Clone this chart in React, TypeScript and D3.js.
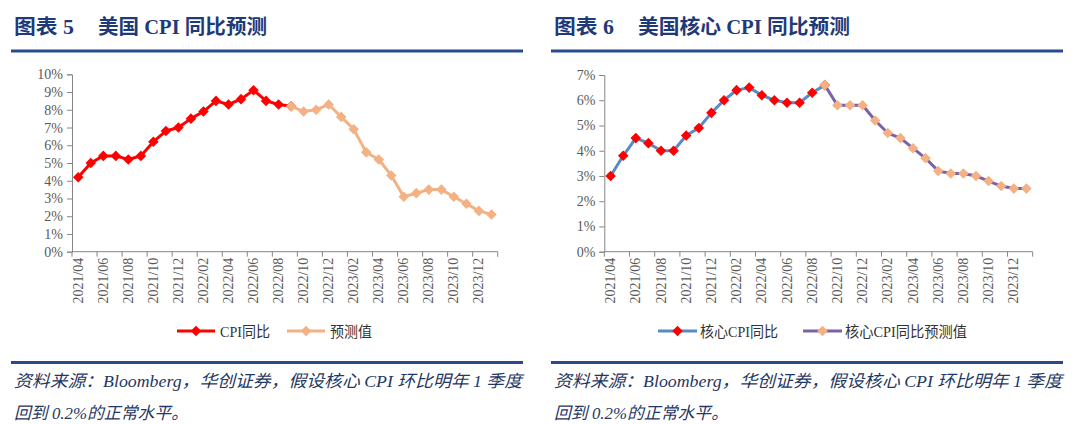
import { useEffect, useRef } from 'react';
import * as d3 from 'd3';

// months on the category axis
const months = [
  '2021/04', '2021/05', '2021/06', '2021/07', '2021/08', '2021/09', '2021/10', '2021/11', '2021/12',
  '2022/01', '2022/02', '2022/03', '2022/04', '2022/05', '2022/06', '2022/07', '2022/08', '2022/09',
  '2022/10', '2022/11', '2022/12', '2023/01', '2023/02', '2023/03', '2023/04', '2023/05', '2023/06',
  '2023/07', '2023/08', '2023/09', '2023/10', '2023/11', '2023/12', '2024/01',
];

// index where the forecast series begins
const forecastStart = 17;

// CPI yoy (%), actual 2021/04 - 2022/09, forecast 2022/09 - 2024/01
const cpiActual = [4.2, 5.0, 5.4, 5.4, 5.2, 5.4, 6.2, 6.8, 7.0, 7.5, 7.9, 8.5, 8.3, 8.6, 9.1, 8.5, 8.3, 8.2];
const cpiForecast = [8.2, 7.9, 8.0, 8.3, 7.6, 6.9, 5.6, 5.2, 4.3, 3.1, 3.3, 3.5, 3.5, 3.1, 2.7, 2.3, 2.1];

// core CPI yoy (%)
const coreActual = [3.0, 3.8, 4.5, 4.3, 4.0, 4.0, 4.6, 4.9, 5.5, 6.0, 6.4, 6.5, 6.2, 6.0, 5.9, 5.9, 6.3, 6.6];
const coreForecast = [6.6, 5.8, 5.8, 5.8, 5.2, 4.7, 4.5, 4.1, 3.7, 3.2, 3.1, 3.1, 3.0, 2.8, 2.6, 2.5, 2.5];

const cpiTicks = [0, 1, 2, 3, 4, 5, 6, 7, 8, 9, 10];
const coreTicks = [0, 1, 2, 3, 4, 5, 6, 7];

const serif = "'Times New Roman', 'Liberation Serif', 'Noto Sans CJK SC', serif";
const navy = '#1f3a78';
const sourceLine1 = '资料来源：Bloomberg，华创证券，假设核心 CPI 环比明年 1 季度';
const sourceLine2 = '回到 0.2%的正常水平。';

type Pt = { i: number; v: number };

interface PanelCfg {
  ox: number;
  num: string;
  title: string;
  titleLen: number;
  plot: { left: number; right: number; top: number; bottom: number };
  ticks: number[];
  actual: number[];
  forecast: number[];
  actualLine: string;
  actualMarker: string;
  forecastLine: string;
  forecastMarker: string;
  legend: { x0: number; x1: number; tx: number; tl: number; line: string; marker: string; text: string }[];
}

const drawPanel = (svg: d3.Selection<SVGSVGElement, unknown, null, undefined>, c: PanelCfg) => {
  const g = svg.append('g');
  const { left, right, top, bottom } = c.plot;

  // heading
  g.append('text')
    .attr('x', c.ox + 14).attr('y', 34)
    .attr('font-family', serif).attr('font-weight', 'bold').attr('font-size', 20)
    .attr('fill', navy)
    .attr('textLength', 60).attr('lengthAdjust', 'spacingAndGlyphs')
    .text(`图表 ${c.num}`);
  g.append('text')
    .attr('x', c.ox + 98).attr('y', 34)
    .attr('font-family', serif).attr('font-weight', 'bold').attr('font-size', 20)
    .attr('fill', navy)
    .attr('textLength', c.titleLen).attr('lengthAdjust', 'spacingAndGlyphs')
    .text(c.title);
  g.append('line')
    .attr('x1', c.ox + 11).attr('x2', c.ox + 523).attr('y1', 51).attr('y2', 51)
    .attr('stroke', '#2b4a8e').attr('stroke-width', 3);

  // scales
  const x = d3.scaleBand<string>().domain(months).range([left, right]).padding(0);
  const bw = x.bandwidth();
  const y = d3.scaleLinear().domain([0, d3.max(c.ticks)!]).range([bottom, top]);

  // y axis
  const yAxis = g.append('g')
    .attr('transform', `translate(${left},0)`)
    .call(d3.axisLeft(y).tickValues(c.ticks).tickFormat(d => `${d}%`).tickSizeOuter(0).tickSize(5).tickPadding(4));
  yAxis.select('.domain').attr('stroke', '#868686');
  yAxis.selectAll('.tick line').attr('stroke', '#868686');
  yAxis.selectAll('.tick text')
    .attr('font-family', serif).attr('font-size', 14).attr('fill', '#595959');

  // x axis: ticks every two months on category boundaries
  const tickIdx = d3.range(0, months.length + 1, 2);
  g.append('line')
    .attr('x1', left).attr('x2', right).attr('y1', bottom).attr('y2', bottom)
    .attr('stroke', '#868686');
  g.selectAll('.xt')
    .data(tickIdx)
    .join('line')
    .attr('x1', i => (i < months.length ? x(months[i])! : right))
    .attr('x2', i => (i < months.length ? x(months[i])! : right))
    .attr('y1', bottom).attr('y2', bottom + 5)
    .attr('stroke', '#868686');
  g.selectAll('.xl')
    .data(months.filter((_, i) => i % 2 === 0 && i < months.length - 1))
    .join('text')
    .attr('transform', m => `translate(${x(m)! + bw / 2},${bottom + 6}) rotate(-90)`)
    .attr('text-anchor', 'end').attr('dominant-baseline', 'central')
    .attr('font-family', serif).attr('font-size', 14).attr('fill', '#595959')
    .text(m => m);

  const line = d3.line<Pt>().x(d => x(months[d.i])! + bw / 2).y(d => y(d.v));
  const diamond = d3.symbol().type(d3.symbolSquare).size(56);

  const series = (vals: number[], start: number, stroke: string, fill: string) => {
    const pts = vals.map((v, k) => ({ i: start + k, v }));
    g.append('path').datum(pts)
      .attr('fill', 'none').attr('stroke', stroke).attr('stroke-width', 3)
      .attr('stroke-linejoin', 'round')
      .attr('d', line);
    g.append('g').selectAll('path')
      .data(pts)
      .join('path')
      .attr('d', diamond)
      .attr('transform', d => `translate(${x(months[d.i])! + bw / 2},${y(d.v)}) rotate(45)`)
      .attr('fill', fill);
  };
  series(c.actual, 0, c.actualLine, c.actualMarker);
  series(c.forecast, forecastStart, c.forecastLine, c.forecastMarker);

  // legend
  const ly = 331;
  c.legend.forEach(l => {
    g.append('line')
      .attr('x1', l.x0).attr('x2', l.x1).attr('y1', ly).attr('y2', ly)
      .attr('stroke', l.line).attr('stroke-width', 3);
    g.append('path')
      .attr('d', diamond)
      .attr('transform', `translate(${(l.x0 + l.x1) / 2},${ly}) rotate(45)`)
      .attr('fill', l.marker);
    g.append('text')
      .attr('x', l.tx).attr('y', ly + 1).attr('dominant-baseline', 'central')
      .attr('font-family', serif).attr('font-size', 15).attr('fill', '#333')
      .attr('textLength', l.tl).attr('lengthAdjust', 'spacingAndGlyphs')
      .text(l.text);
  });

  // source note
  g.append('line')
    .attr('x1', c.ox + 11).attr('x2', c.ox + 523).attr('y1', 362.5).attr('y2', 362.5)
    .attr('stroke', '#2b4a8e').attr('stroke-width', 3);
  g.append('text')
    .attr('x', c.ox + 14).attr('y', 387)
    .attr('font-family', serif).attr('font-style', 'italic').attr('font-size', 17)
    .attr('fill', '#1f3864')
    .attr('textLength', 508).attr('lengthAdjust', 'spacingAndGlyphs')
    .text(sourceLine1);
  g.append('text')
    .attr('x', c.ox + 14).attr('y', 419)
    .attr('font-family', serif).attr('font-style', 'italic').attr('font-size', 17)
    .attr('fill', '#1f3864')
    .attr('textLength', 174).attr('lengthAdjust', 'spacingAndGlyphs')
    .text(sourceLine2);
};

export default function App() {
  const svgRef = useRef<SVGSVGElement>(null);

  useEffect(() => {
    if (!svgRef.current) return;
    const svg = d3.select(svgRef.current);
    svg.selectAll('*').remove();

    drawPanel(svg, {
      ox: 0,
      num: '5',
      title: '美国 CPI 同比预测',
      titleLen: 169,
      plot: { left: 72, right: 497.7, top: 74.3, bottom: 251.7 },
      ticks: cpiTicks,
      actual: cpiActual,
      forecast: cpiForecast,
      actualLine: '#ff0000',
      actualMarker: '#ff0000',
      forecastLine: '#f4b183',
      forecastMarker: '#f4b183',
      legend: [
        { x0: 177, x1: 215, tx: 220, tl: 50, line: '#ff0000', marker: '#ff0000', text: 'CPI同比' },
        { x0: 287, x1: 325, tx: 330, tl: 42, line: '#f4b183', marker: '#f4b183', text: '预测值' },
      ],
    });

    drawPanel(svg, {
      ox: 540,
      num: '6',
      title: '美国核心 CPI 同比预测',
      titleLen: 212,
      plot: { left: 604.3, right: 1032.7, top: 75, bottom: 251.7 },
      ticks: coreTicks,
      actual: coreActual,
      forecast: coreForecast,
      actualLine: '#5a8ac6',
      actualMarker: '#ff0000',
      forecastLine: '#7b62a6',
      forecastMarker: '#f4b183',
      legend: [
        { x0: 658, x1: 697, tx: 700, tl: 78, line: '#5a8ac6', marker: '#ff0000', text: '核心CPI同比' },
        { x0: 803, x1: 842, tx: 845, tl: 122, line: '#7b62a6', marker: '#f4b183', text: '核心CPI同比预测值' },
      ],
    });
  }, []);

  return (
    <svg
      ref={svgRef}
      width={1080}
      height={424}
      style={{ position: 'absolute', left: 0, top: 0, background: '#fff', display: 'block' }}
    />
  );
}
